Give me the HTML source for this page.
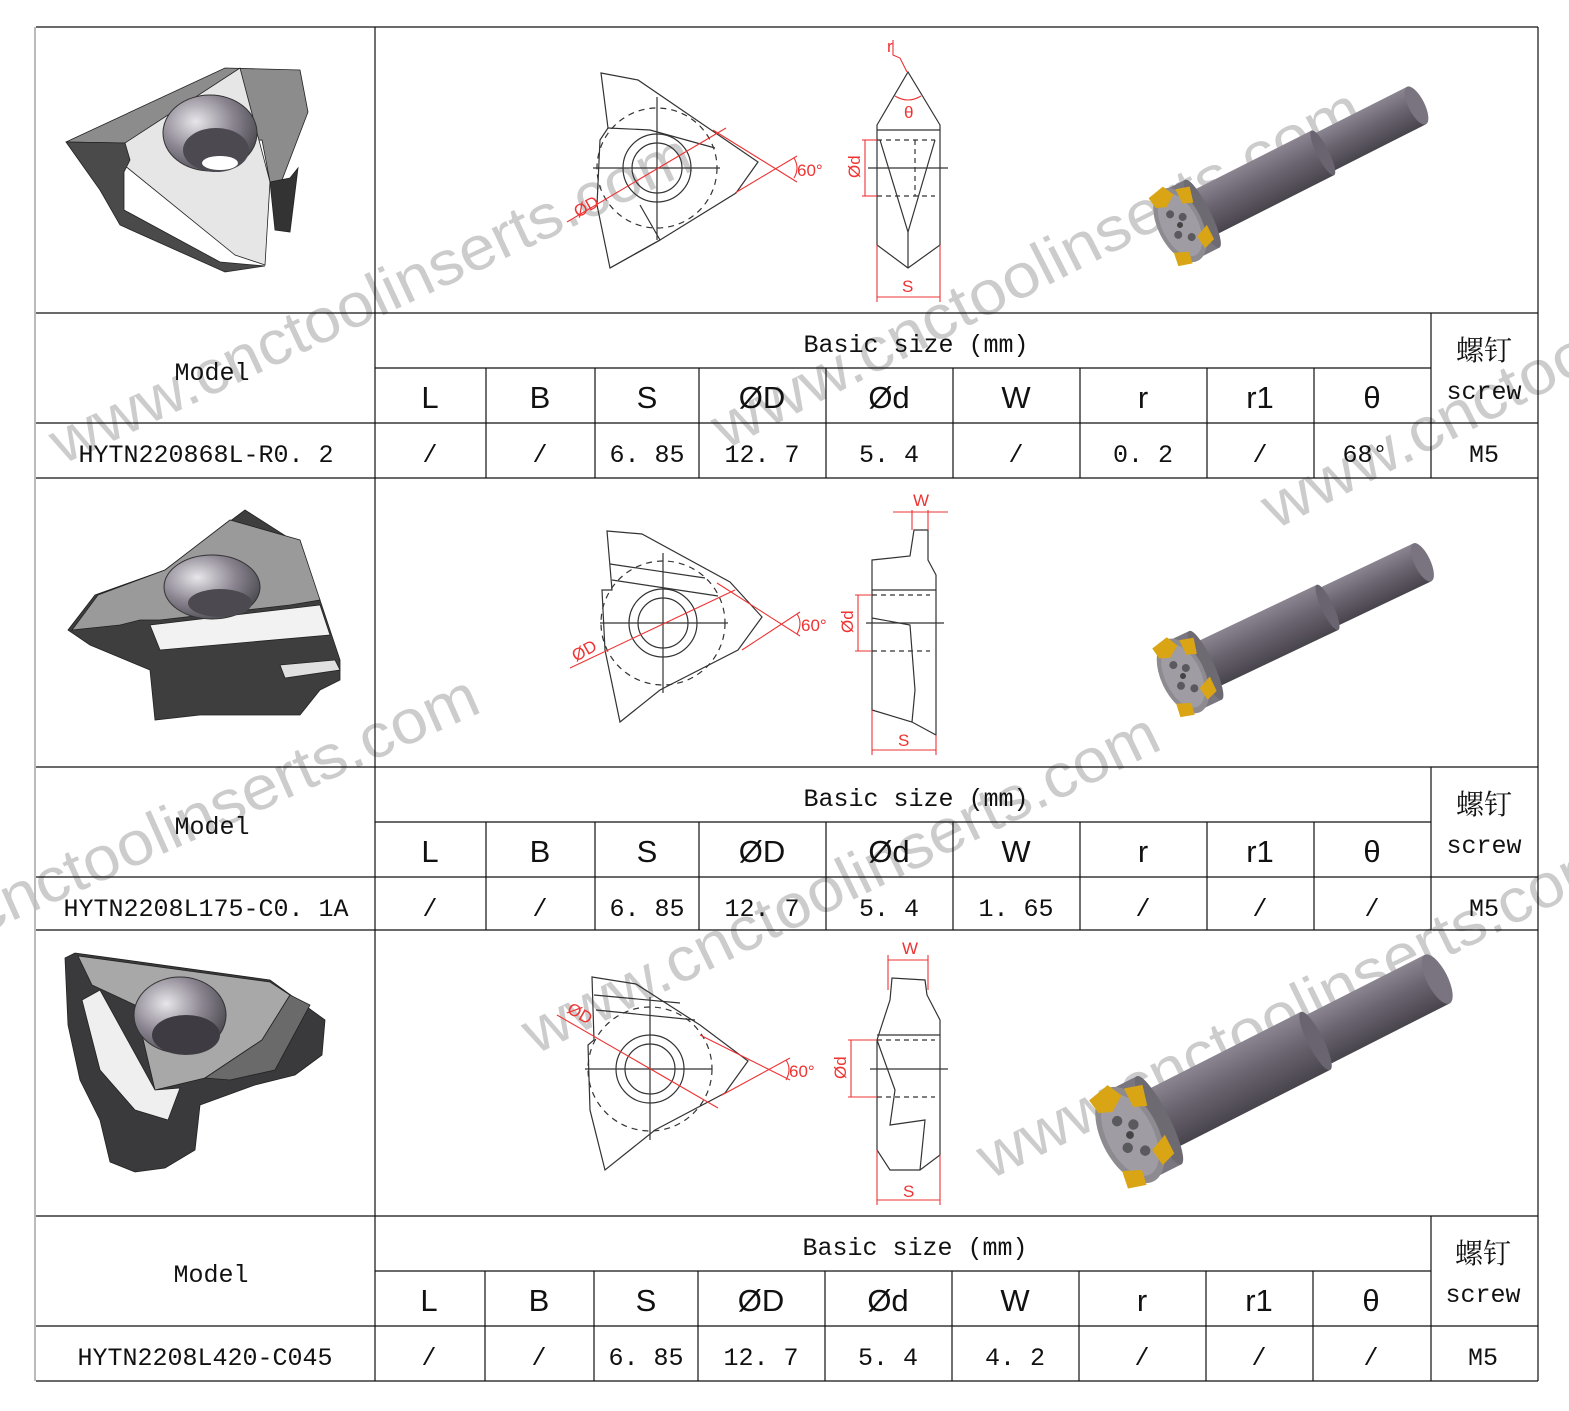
<!DOCTYPE html>
<html><head><meta charset="utf-8">
<style>
html,body{margin:0;padding:0;background:#fff;}
svg{display:block;}
.m{font-family:"Liberation Mono","Noto Serif CJK SC",monospace;font-size:25px;fill:#111;}
.h{font-family:"Liberation Sans",sans-serif;font-size:31px;fill:#111;}
.c{font-family:"Noto Serif CJK SC","Noto Sans CJK SC",serif;font-size:28px;fill:#111;}
.wm{font-family:"Liberation Sans",sans-serif;font-size:62px;fill:#9a9a9a;fill-opacity:0.5;}
.rd{font-family:"Liberation Sans",sans-serif;font-size:17px;fill:#e33;}
</style></head>
<body>
<svg width="1569" height="1411" viewBox="0 0 1569 1411" xmlns="http://www.w3.org/2000/svg">
<defs>
<radialGradient id="hole" cx="0.35" cy="0.35" r="0.8">
<stop offset="0" stop-color="#e8e6ea"/><stop offset="0.5" stop-color="#8a8490"/><stop offset="1" stop-color="#3a3a3e"/>
</radialGradient>
<linearGradient id="shaft" x1="0" y1="0" x2="0" y2="1">
<stop offset="0" stop-color="#8a8590"/><stop offset="0.45" stop-color="#6a6470"/><stop offset="1" stop-color="#48444c"/>
</linearGradient>
<g id="tool">
<rect x="160" y="-21" width="105" height="42" fill="url(#shaft)"/>
<ellipse cx="265" cy="0" rx="8" ry="21" fill="#7a7480"/>
<rect x="25" y="-25" width="135" height="50" fill="url(#shaft)"/>
<ellipse cx="160" cy="0" rx="6" ry="25" fill="#6a6470"/>
<rect x="0" y="-38" width="25" height="76" fill="#7a7680"/>
<ellipse cx="25" cy="0" rx="8" ry="38" fill="#6e6a72"/>
<ellipse cx="0" cy="0" rx="22" ry="40" fill="#8d8a90"/>
<ellipse cx="0" cy="0" rx="18" ry="34" fill="#a09ca4"/>
<circle cx="-4" cy="-14" r="4" fill="#5a5a5e"/><circle cx="6" cy="-6" r="4" fill="#5a5a5e"/>
<circle cx="-6" cy="8" r="4" fill="#5a5a5e"/><circle cx="5" cy="16" r="4" fill="#5a5a5e"/>
<circle cx="0" cy="0" r="3" fill="#444"/>
<polygon points="-16,-38 2,-42 8,-30 -4,-22 -14,-26" fill="#d9a514"/>
<polygon points="12,-34 26,-30 22,-14 12,-18" fill="#d9a514"/>
<polygon points="10,18 24,12 24,28 12,32" fill="#d9a514"/>
<polygon points="-18,22 -4,28 -6,40 -20,36" fill="#d9a514"/>
</g>
</defs>

<!-- watermarks -->
<text class="wm" transform="translate(62,465) rotate(-25)" textLength="700" lengthAdjust="spacingAndGlyphs">www.cnctoolinserts.com</text>
<text class="wm" transform="translate(725,450) rotate(-27)" textLength="720" lengthAdjust="spacingAndGlyphs">www.cnctoolinserts.com</text>
<text class="wm" transform="translate(1275,530) rotate(-27)" textLength="720" lengthAdjust="spacingAndGlyphs">www.cnctoolinserts.com</text>
<text class="wm" transform="translate(-165,1000) rotate(-24)" textLength="710" lengthAdjust="spacingAndGlyphs">www.cnctoolinserts.com</text>
<text class="wm" transform="translate(535,1055) rotate(-26)" textLength="700" lengthAdjust="spacingAndGlyphs">www.cnctoolinserts.com</text>
<text class="wm" transform="translate(990,1180) rotate(-26)" textLength="700" lengthAdjust="spacingAndGlyphs">www.cnctoolinserts.com</text>

<!-- insert 1 -->
<g stroke="#222" stroke-width="0.8">
<polygon points="66,142 225,68 300,70 308,112 282,180 270,182 262,140 125,143" fill="#8c8c8c"/>
<polygon points="125,143 240,68 270,182 265,265 235,255 124,165" fill="#e6e6e6"/>
<polygon points="66,142 125,143 130,160 124,172 124,210 220,262 265,266 225,272 120,225 100,190" fill="#4a4a4a"/>
<polygon points="270,182 290,178 298,168 290,232 275,230" fill="#333"/>
</g>
<ellipse cx="210" cy="133" rx="47" ry="38" fill="url(#hole)" stroke="#333"/>
<ellipse cx="216" cy="150" rx="33" ry="22" fill="#4c4a50"/>
<ellipse cx="220" cy="163" rx="18" ry="7" fill="#fff"/>

<!-- insert 2 -->
<g stroke="#222" stroke-width="0.8">
<polygon points="68,630 95,595 165,570 245,510 292,540 320,600 340,660 340,680 320,690 300,715 200,715 155,720 150,670 90,645" fill="#3e3e3e"/>
<polygon points="72,630 98,595 165,570 230,520 300,540 320,600 290,605 160,620 140,620 120,625" fill="#9a9a9a"/>
<polygon points="150,625 320,605 330,635 160,650" fill="#f2f2f2"/>
<polygon points="280,665 335,660 340,670 285,678" fill="#e0e0e0"/>
</g>
<ellipse cx="212" cy="587" rx="48" ry="32" fill="url(#hole)" stroke="#333"/>
<ellipse cx="220" cy="603" rx="32" ry="14" fill="#4c4a50"/>

<!-- insert 3 -->
<g stroke="#222" stroke-width="0.8">
<polygon points="65,958 75,953 270,980 325,1020 322,1055 295,1075 255,1085 200,1105 195,1150 165,1168 135,1172 110,1162 100,1120 80,1080 68,1025" fill="#3a3a3c"/>
<polygon points="78,956 270,982 290,995 262,1040 205,1078 155,1090 135,1005 92,985" fill="#a8a8a8"/>
<polygon points="82,1000 100,990 155,1090 180,1088 168,1120 135,1110 100,1070" fill="#efefef"/>
<polygon points="205,1078 262,1040 290,995 310,1005 275,1070 230,1080" fill="#6a6a6a"/>
</g>
<ellipse cx="180" cy="1015" rx="46" ry="38" fill="url(#hole)" stroke="#333"/>
<ellipse cx="186" cy="1035" rx="34" ry="20" fill="#3e3c42"/>

<!-- tools -->
<use href="#tool" transform="translate(1180,225) rotate(-26.8)"/>
<use href="#tool" transform="translate(1183,676) rotate(-25.4)"/>
<use href="#tool" transform="translate(1130,1135) rotate(-26.9) scale(1.3)"/>

<!-- drawing 1 -->
<g fill="none" stroke="#333" stroke-width="1.2">
<polygon points="601,73 638,80 758,162 736,193 660,240 610,268 597,205 600,140 608,128"/>
<polyline points="608,128 650,130 715,148"/>
<polyline points="610,268 660,240 640,205"/>
<circle cx="657" cy="168" r="34"/><circle cx="657" cy="168" r="25"/>
<circle cx="657" cy="168" r="60" stroke-dasharray="6 5"/>
<line x1="593" y1="168" x2="720" y2="168"/><line x1="657" y1="97" x2="657" y2="240"/>
<polygon points="877,125 908,72 940,125 940,245 908,268 877,245"/>
<line x1="877" y1="130" x2="940" y2="130"/>
<polyline points="880,140 908,232 935,140"/>
<line x1="908" y1="232" x2="908" y2="268"/>
<line x1="877" y1="140" x2="935" y2="140" stroke-dasharray="5 4"/>
<line x1="877" y1="196" x2="935" y2="196" stroke-dasharray="5 4"/>
<line x1="915" y1="140" x2="915" y2="196" stroke-dasharray="5 4"/>
<line x1="868" y1="168" x2="948" y2="168"/>
</g>
<g fill="none" stroke="#e33" stroke-width="1.1">
<line x1="567" y1="222" x2="726" y2="128"/>
<line x1="713" y1="130" x2="797" y2="182"/><line x1="735" y1="193" x2="797" y2="156"/>
<path d="M794,158 Q800,168 794,178"/>
<line x1="865" y1="140" x2="865" y2="196"/><line x1="862" y1="140" x2="877" y2="140"/><line x1="862" y1="196" x2="877" y2="196"/>
<line x1="877" y1="245" x2="877" y2="302"/><line x1="940" y1="245" x2="940" y2="302"/>
<line x1="877" y1="297" x2="940" y2="297"/>
<path d="M893,40 L893,55 L900,58 L907,72"/>
<path d="M895,96 Q908,104 921,96"/>
</g>
<text class="rd" x="797" y="176">60°</text>
<text class="rd" transform="translate(578,218) rotate(-30)">ØD</text>
<text class="rd" transform="translate(860,178) rotate(-90)">Ød</text>
<text class="rd" x="902" y="292">S</text>
<text class="rd" x="887" y="52">r</text>
<text class="rd" x="904" y="118">θ</text>

<!-- drawing 2 -->
<g fill="none" stroke="#333" stroke-width="1.2">
<polygon points="607,531 642,534 730,582 762,617 738,650 660,690 620,722 605,650 602,590 612,590"/>
<circle cx="663" cy="623" r="34"/><circle cx="663" cy="623" r="25"/>
<circle cx="663" cy="623" r="62" stroke-dasharray="6 5"/>
<line x1="600" y1="623" x2="728" y2="623"/><line x1="663" y1="553" x2="663" y2="693"/>
<line x1="610" y1="564" x2="705" y2="578"/><line x1="612" y1="580" x2="718" y2="596"/>
<polygon points="872,560 910,556 914,530 928,530 928,560 936,575 936,735 912,722 872,710"/>
<line x1="872" y1="590" x2="936" y2="590"/>
<line x1="872" y1="595" x2="930" y2="595" stroke-dasharray="5 4"/>
<line x1="872" y1="651" x2="930" y2="651" stroke-dasharray="5 4"/>
<line x1="866" y1="623" x2="944" y2="623"/>
<polyline points="872,618 910,625 915,690 912,722"/>
</g>
<g fill="none" stroke="#e33" stroke-width="1.1">
<line x1="570" y1="668" x2="735" y2="590"/>
<line x1="717" y1="583" x2="800" y2="636"/><line x1="742" y1="650" x2="800" y2="612"/>
<path d="M797,614 Q803,623 797,634"/>
<line x1="858" y1="595" x2="858" y2="651"/><line x1="855" y1="595" x2="872" y2="595"/><line x1="855" y1="651" x2="872" y2="651"/>
<line x1="872" y1="710" x2="872" y2="755"/><line x1="936" y1="735" x2="936" y2="755"/>
<line x1="872" y1="750" x2="936" y2="750"/>
<line x1="912" y1="510" x2="912" y2="530"/><line x1="928" y1="510" x2="928" y2="530"/>
<line x1="893" y1="512" x2="948" y2="512"/>
</g>
<text class="rd" x="801" y="631">60°</text>
<text class="rd" transform="translate(576,662) rotate(-30)">ØD</text>
<text class="rd" transform="translate(853,633) rotate(-90)">Ød</text>
<text class="rd" x="898" y="746">S</text>
<text class="rd" x="913" y="506">W</text>

<!-- drawing 3 -->
<g fill="none" stroke="#333" stroke-width="1.2">
<polygon points="592,977 636,984 700,1025 748,1061 725,1093 655,1130 605,1170 590,1110 588,1045 594,1040"/>
<circle cx="650" cy="1069" r="34"/><circle cx="650" cy="1069" r="25"/>
<circle cx="650" cy="1069" r="62" stroke-dasharray="6 5"/>
<line x1="585" y1="1069" x2="712" y2="1069"/><line x1="650" y1="997" x2="650" y2="1140"/>
<line x1="594" y1="995" x2="680" y2="1003"/><line x1="596" y1="1010" x2="695" y2="1020"/>
<polygon points="877,1040 890,1000 892,978 925,980 927,995 940,1020 940,1155 920,1170 890,1170 877,1150"/>
<line x1="877" y1="1035" x2="940" y2="1035"/>
<line x1="877" y1="1040" x2="935" y2="1040" stroke-dasharray="5 4"/>
<line x1="877" y1="1097" x2="935" y2="1097" stroke-dasharray="5 4"/>
<line x1="870" y1="1069" x2="948" y2="1069"/>
<polyline points="877,1040 895,1090 890,1125 925,1120 920,1170"/>
</g>
<g fill="none" stroke="#e33" stroke-width="1.1">
<line x1="557" y1="1015" x2="718" y2="1108"/>
<line x1="700" y1="1035" x2="790" y2="1080"/><line x1="722" y1="1095" x2="790" y2="1058"/>
<path d="M786,1060 Q792,1069 786,1080"/>
<line x1="851" y1="1040" x2="851" y2="1097"/><line x1="848" y1="1040" x2="877" y2="1040"/><line x1="848" y1="1097" x2="877" y2="1097"/>
<line x1="877" y1="1150" x2="877" y2="1205"/><line x1="940" y1="1155" x2="940" y2="1205"/>
<line x1="877" y1="1200" x2="940" y2="1200"/>
<line x1="888" y1="955" x2="888" y2="990"/><line x1="928" y1="955" x2="928" y2="990"/>
<line x1="888" y1="960" x2="928" y2="960"/>
</g>
<text class="rd" x="789" y="1077">60°</text>
<text class="rd" transform="translate(566,1012) rotate(30)">ØD</text>
<text class="rd" transform="translate(846,1079) rotate(-90)">Ød</text>
<text class="rd" x="903" y="1197">S</text>
<text class="rd" x="902" y="954">W</text>

<!-- grid -->
<g stroke="#111" stroke-width="1.2" fill="none">
<line x1="36" y1="27" x2="1538" y2="27"/>
<line x1="36" y1="313" x2="1538" y2="313"/>
<line x1="375" y1="368" x2="1431" y2="368"/>
<line x1="36" y1="423" x2="1538" y2="423"/>
<line x1="36" y1="478" x2="1538" y2="478"/>
<line x1="36" y1="767" x2="1538" y2="767"/>
<line x1="375" y1="822" x2="1431" y2="822"/>
<line x1="36" y1="877" x2="1538" y2="877"/>
<line x1="36" y1="930" x2="1538" y2="930"/>
<line x1="36" y1="1216" x2="1538" y2="1216"/>
<line x1="375" y1="1271" x2="1431" y2="1271"/>
<line x1="36" y1="1326" x2="1538" y2="1326"/>
<line x1="36" y1="1381" x2="1538" y2="1381"/>
<line x1="375" y1="27" x2="375" y2="1381"/>
<line x1="1538" y1="27" x2="1538" y2="1381"/>
<line x1="1431" y1="313" x2="1431" y2="478"/>
<line x1="1431" y1="767" x2="1431" y2="930"/>
<line x1="1431" y1="1216" x2="1431" y2="1381"/>
</g>
<line x1="35" y1="27" x2="35" y2="1381" stroke="#bbb" stroke-width="2"/>
<g stroke="#111" stroke-width="1.2">
<path d="M486,368V478M595,368V478M699,368V478M826,368V478M953,368V478M1080,368V478M1207,368V478M1314,368V478"/>
<path d="M486,822V930M595,822V930M699,822V930M826,822V930M953,822V930M1080,822V930M1207,822V930M1314,822V930"/>
<path d="M485,1271V1381M594,1271V1381M698,1271V1381M825,1271V1381M952,1271V1381M1079,1271V1381M1206,1271V1381M1313,1271V1381"/>
</g>

<!-- text block 1 -->
<g text-anchor="middle">
<text class="m" x="212" y="380">Model</text>
<text class="m" x="916" y="352">Basic size (mm)</text>
<text class="c" x="1484" y="360">螺钉</text>
<text class="m" x="1484" y="399">screw</text>
<text class="h" x="430" y="408">L</text><text class="h" x="540" y="408">B</text><text class="h" x="647" y="408">S</text>
<text class="h" x="762" y="408">ØD</text><text class="h" x="889" y="408">Ød</text><text class="h" x="1016" y="408">W</text>
<text class="h" x="1143" y="408">r</text><text class="h" x="1260" y="408">r1</text><text class="h" x="1372" y="408">θ</text>
<text class="m" x="206" y="462">HYTN220868L-R0. 2</text>
<text class="m" x="430" y="462">/</text><text class="m" x="540" y="462">/</text><text class="m" x="647" y="462">6. 85</text>
<text class="m" x="762" y="462">12. 7</text><text class="m" x="889" y="462">5. 4</text><text class="m" x="1016" y="462">/</text>
<text class="m" x="1143" y="462">0. 2</text><text class="m" x="1260" y="462">/</text><text class="m" x="1365" y="462">68°</text>
<text class="m" x="1484" y="462">M5</text>
</g>
<!-- text block 2 -->
<g text-anchor="middle">
<text class="m" x="212" y="834">Model</text>
<text class="m" x="916" y="806">Basic size (mm)</text>
<text class="c" x="1484" y="814">螺钉</text>
<text class="m" x="1484" y="853">screw</text>
<text class="h" x="430" y="862">L</text><text class="h" x="540" y="862">B</text><text class="h" x="647" y="862">S</text>
<text class="h" x="762" y="862">ØD</text><text class="h" x="889" y="862">Ød</text><text class="h" x="1016" y="862">W</text>
<text class="h" x="1143" y="862">r</text><text class="h" x="1260" y="862">r1</text><text class="h" x="1372" y="862">θ</text>
<text class="m" x="206" y="916">HYTN2208L175-C0. 1A</text>
<text class="m" x="430" y="916">/</text><text class="m" x="540" y="916">/</text><text class="m" x="647" y="916">6. 85</text>
<text class="m" x="762" y="916">12. 7</text><text class="m" x="889" y="916">5. 4</text><text class="m" x="1016" y="916">1. 65</text>
<text class="m" x="1143" y="916">/</text><text class="m" x="1260" y="916">/</text><text class="m" x="1372" y="916">/</text>
<text class="m" x="1484" y="916">M5</text>
</g>
<!-- text block 3 -->
<g text-anchor="middle">
<text class="m" x="211" y="1282">Model</text>
<text class="m" x="915" y="1255">Basic size (mm)</text>
<text class="c" x="1483" y="1263">螺钉</text>
<text class="m" x="1483" y="1302">screw</text>
<text class="h" x="429" y="1311">L</text><text class="h" x="539" y="1311">B</text><text class="h" x="646" y="1311">S</text>
<text class="h" x="761" y="1311">ØD</text><text class="h" x="888" y="1311">Ød</text><text class="h" x="1015" y="1311">W</text>
<text class="h" x="1142" y="1311">r</text><text class="h" x="1259" y="1311">r1</text><text class="h" x="1371" y="1311">θ</text>
<text class="m" x="205" y="1365">HYTN2208L420-C045</text>
<text class="m" x="429" y="1365">/</text><text class="m" x="539" y="1365">/</text><text class="m" x="646" y="1365">6. 85</text>
<text class="m" x="761" y="1365">12. 7</text><text class="m" x="888" y="1365">5. 4</text><text class="m" x="1015" y="1365">4. 2</text>
<text class="m" x="1142" y="1365">/</text><text class="m" x="1259" y="1365">/</text><text class="m" x="1371" y="1365">/</text>
<text class="m" x="1483" y="1365">M5</text>
</g>
</svg>
</body></html>
